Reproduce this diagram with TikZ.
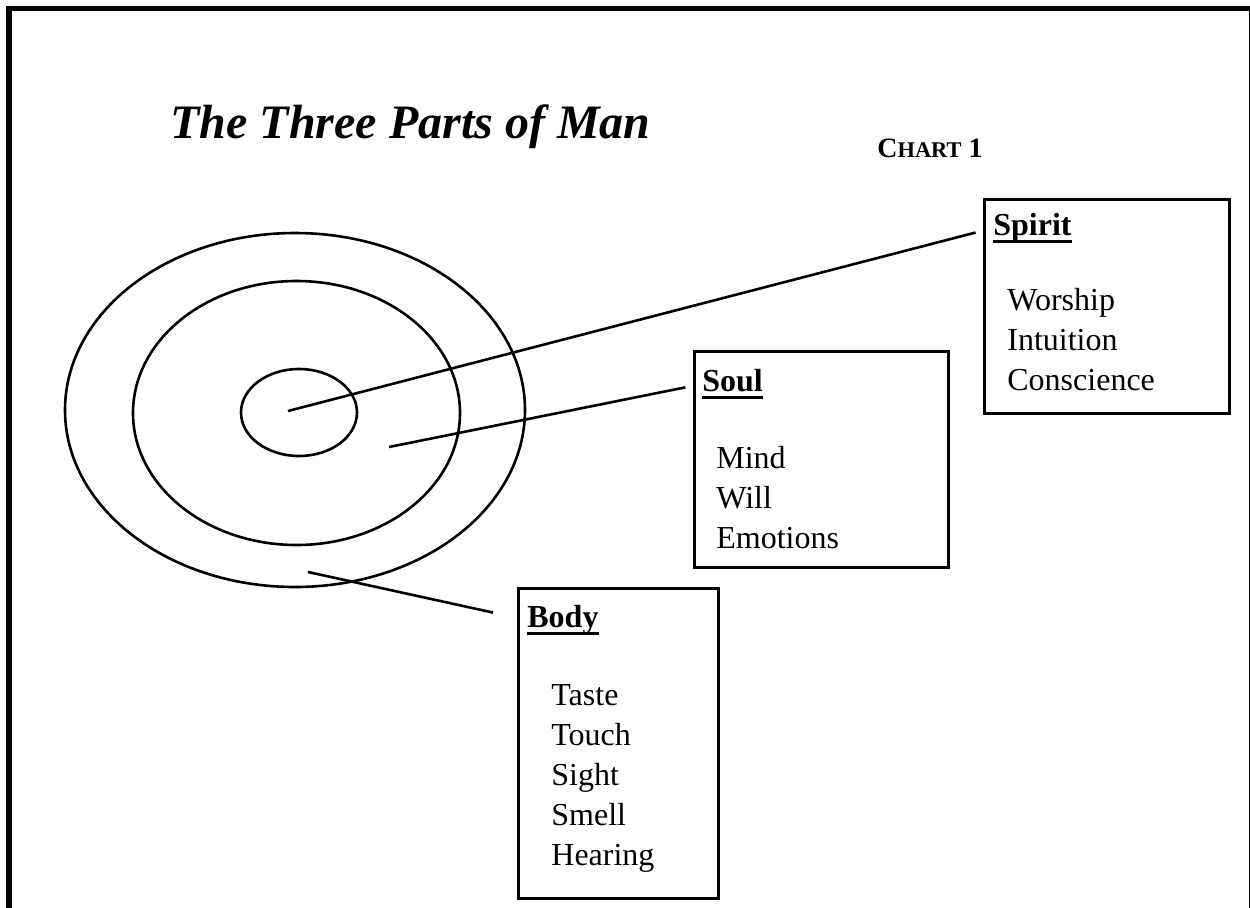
\documentclass[tikz,border=0pt]{standalone}
\usepackage{fontspec}
\setmainfont{Liberation Serif}
\usepackage{tikz}
\usetikzlibrary{shapes.geometric,positioning}

% underlined bold heading, thick rule as in the chart
\newcommand{\headul}[1]{\setbox0\hbox{\bfseries #1}\rlap{\rule[-4.1pt]{\wd0}{1.4pt}}\box0}

\begin{document}
\begin{tikzpicture}[
x=0.5pt, y=-0.5pt,
ring/.style={draw, ellipse, line width=1.3pt, inner sep=0pt},
box/.style={draw, line width=1.3pt, anchor=north west, inner sep=0pt},
head/.style={font=\fontsize{16}{20}\selectfont, anchor=base west, inner sep=0pt},
item/.style={font=\fontsize{16}{20}\selectfont, anchor=base west, inner sep=0pt},
link/.style={line width=1.3pt}
]
\useasboundingbox (0,0) rectangle (1250,907);

% page frame
\draw[line width=2.8pt] (9,915) -- (9,8.5) -- (1251.8,8.5) -- (1251.8,915);

% Title
\node[anchor=base west, inner sep=0pt, font=\fontsize{24}{28}\selectfont\bfseries\itshape]
  (title) at (170,138) {The Three Parts of Man};
\node[anchor=base west, inner sep=0pt, font=\bfseries]
  (chart) at (877,157) {{\fontsize{14}{16}\selectfont C}{\fontsize{11.2}{14}\selectfont HART}{\fontsize{14}{16}\selectfont\ 1}};

% Rings
\node[ring, minimum width=230pt, minimum height=177pt] (body) at (295,410) {};
\node[ring, minimum width=163.5pt, minimum height=132pt] (soul) at (296.5,413) {};
\node[ring, minimum width=58pt, minimum height=43.5pt] (spirit) at (299,412.5) {};

% Boxes
\node[box, minimum width=122.5pt, minimum height=107pt] (spiritbox) at (983,198) {};
\node[box, minimum width=127pt, minimum height=108pt] (soulbox) at (693,350) {};
\node[box, minimum width=100pt, minimum height=155pt] (bodybox) at (517,587) {};

% Headings
\node[head] (spirithd) at (993,235) {\headul{Spirit}};
\node[head] (soulhd) at (702,391) {\headul{Soul}};
\node[head] (bodyhd) at (527,627) {\headul{Body}};

% Lists
\foreach \w [count=\i] in {Worship,Intuition,Conscience}
  \node[item] (spirit-\i) at (1007,270+40*\i) {\w};
\foreach \w [count=\i] in {Mind,Will,Emotions}
  \node[item] (soul-\i) at (716,428+40*\i) {\w};
\foreach \w [count=\i] in {Taste,Touch,Sight,Smell,Hearing}
  \node[item] (body-\i) at (551,665+40*\i) {\w};

% Pointers
\coordinate (spiritpt) at (288,411);
\coordinate (soulpt) at (389,447);
\coordinate (bodypt) at (308,572);
\draw[link, shorten >=9pt] (spiritpt) -- (spirithd.west);
\draw[link, shorten >=8.5pt] (soulpt) -- (soulhd.west);
\draw[link, shorten >=17.4pt] (bodypt) -- (bodyhd.west);

\end{tikzpicture}
\end{document}
